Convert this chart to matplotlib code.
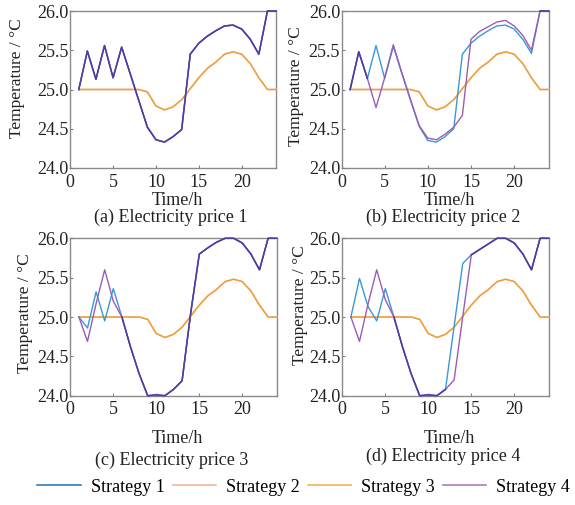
import numpy as np
import matplotlib
matplotlib.use("Agg")
import matplotlib.pyplot as plt
from matplotlib.lines import Line2D

plt.rcParams['font.family'] = ['Liberation Serif', 'DejaVu Serif']
plt.rcParams['font.size'] = 13

hours = np.arange(1, 25)

# strategies 2 and 3 share the same temperature curve
base_temp = [25.0, 25.0, 25.0, 25.0, 25.0, 25.0, 25.0, 25.0, 24.97, 24.79, 24.74, 24.78,
             24.87, 25.01, 25.15, 25.27, 25.35, 25.45, 25.48, 25.45, 25.33, 25.15, 25.0, 25.0]

# (a) price 1 : strategy 1 and 4 identical
s1_p1 = [25.0, 25.49, 25.13, 25.56, 25.15, 25.54, 25.2, 24.86, 24.52, 24.36, 24.33, 24.4,
         24.49, 25.45, 25.59, 25.68, 25.75, 25.81, 25.82, 25.77, 25.64, 25.45, 26.0, 26.0]
s4_p1 = list(s1_p1)

# (b) price 2
s1_p2 = [25.0, 25.48, 25.14, 25.56, 25.14, 25.55, 25.2, 24.86, 24.53, 24.35, 24.33, 24.4,
         24.5, 25.45, 25.59, 25.68, 25.75, 25.81, 25.82, 25.77, 25.64, 25.46, 26.0, 26.0]
s4_p2 = [25.0, 25.48, 25.14, 24.77, 25.15, 25.57, 25.21, 24.87, 24.54, 24.38, 24.36, 24.43,
         24.52, 24.67, 25.64, 25.74, 25.8, 25.86, 25.88, 25.81, 25.69, 25.5, 26.0, 26.0]

# (c) price 3
s1_p3 = [25.0, 24.86, 25.32, 24.95, 25.36, 25.0, 24.62, 24.28, 24.0, 24.01, 24.0, 24.08,
         24.19, 25.05, 25.8, 25.88, 25.95, 26.0, 26.0, 25.94, 25.8, 25.6, 26.0, 26.0]
s4_p3 = [25.0, 24.69, 25.17, 25.6, 25.2, 25.0, 24.62, 24.28, 24.0, 24.01, 24.0, 24.08,
         24.19, 25.05, 25.8, 25.88, 25.95, 26.0, 26.0, 25.94, 25.8, 25.6, 26.0, 26.0]

# (d) price 4
s1_p4 = [25.0, 25.49, 25.13, 24.95, 25.36, 25.0, 24.62, 24.28, 24.0, 24.01, 24.0, 24.08,
         24.88, 25.68, 25.79, 25.86, 25.93, 26.0, 26.0, 25.94, 25.8, 25.6, 26.0, 26.0]
s4_p4 = [25.0, 24.69, 25.17, 25.6, 25.22, 25.0, 24.62, 24.28, 24.0, 24.01, 24.0, 24.08,
         24.2, 25.0, 25.79, 25.86, 25.93, 26.0, 26.0, 25.94, 25.8, 25.6, 26.0, 26.0]

panels = [
    ("(a) Electricity price 1", s1_p1, s4_p1),
    ("(b) Electricity price 2", s1_p2, s4_p2),
    ("(c) Electricity price 3", s1_p3, s4_p3),
    ("(d) Electricity price 4", s1_p4, s4_p4),
]
legend_labels = ["Strategy 1", "Strategy 2", "Strategy 3", "Strategy 4"]

c_blue = '#3b97d6'
c_purple = '#9b5cb6'
c_both = '#4c3d9f'
c_orange = '#f0a132'
leg_colors = ['#2f7bb9', '#f2b59b', '#e9b653', '#a97bc2']
txt = '#222222'

W, H = 575, 505
fig = plt.figure(figsize=(W / 100, H / 100), dpi=100)

# axes boxes in pixels: left, top, right, bottom
boxes = [(70.2, 11, 276, 168), (341.5, 11, 548.7, 168),
         (70.3, 238.3, 276.7, 395.7), (342.3, 238.3, 548.7, 395.7)]
ylab_x = [-0.26, -0.22, -0.22, -0.205]
ylab_y = [0.57, 0.52, 0.525, 0.575]
xlab_y = [-0.205, -0.205, -0.27, -0.27]
sub_y = [-0.312, -0.312, -0.41, -0.385]

for i, (title, s1, s4) in enumerate(panels):
    l, t, r, b = boxes[i]
    ax = fig.add_axes([l / W, 1 - b / H, (r - l) / W, (b - t) / H])
    s1 = np.array(s1)
    s4 = np.array(s4)
    ax.plot(hours, base_temp, color='#f2b59b', lw=1.2, clip_on=False)
    ax.plot(hours, base_temp, color=c_orange, lw=1.0, clip_on=False)
    ax.plot(hours, s1, color=c_blue, lw=1.0, clip_on=False)
    ax.plot(hours, s4, color=c_purple, lw=1.0, clip_on=False)
    same = np.isclose(s1, s4)
    ax.plot(hours, np.where(same, s1, np.nan), color=c_both, lw=1.1, clip_on=False)

    ax.set_xlim(0, 24)
    ax.set_ylim(24, 26)
    ax.set_xticks([0, 5, 10, 15, 20])
    ax.set_yticks([24.0, 24.5, 25.0, 25.5, 26.0])
    ax.set_yticklabels(['24.0', '24.5', '25.0', '25.5', '26.0'])
    ax.tick_params(direction='in', length=2, color='#808080', labelsize=13,
                   labelcolor=txt)
    ax.tick_params(axis='y', pad=1.0)
    ax.tick_params(axis='x', pad=4)
    for sp in ax.spines.values():
        sp.set_color('#8a8a8a')
        sp.set_linewidth(1.0)
        sp.set_zorder(0.5)

    ax.set_ylabel('Temperature / °C', fontsize=12.5, color=txt)
    ax.yaxis.label.set_verticalalignment('center')
    ax.yaxis.set_label_coords(ylab_x[i], ylab_y[i])
    ax.set_xlabel('Time/h', fontsize=13, color=txt)
    ax.xaxis.label.set_verticalalignment('center')
    ax.xaxis.set_label_coords(0.52, xlab_y[i])
    ax.text(0.49, sub_y[i], title, transform=ax.transAxes, ha='center', va='center',
            fontsize=13, color=txt)

handles = [Line2D([], [], color=c, lw=1.2) for c in leg_colors]
fig.legend(handles, legend_labels, loc='center', bbox_to_anchor=(0.528, 1 - 487 / H),
           ncol=4, frameon=False, fontsize=13, handlelength=2.4, columnspacing=0.45,
           handletextpad=0.55, borderaxespad=0, borderpad=0)

fig.savefig('out.png', dpi=100)
